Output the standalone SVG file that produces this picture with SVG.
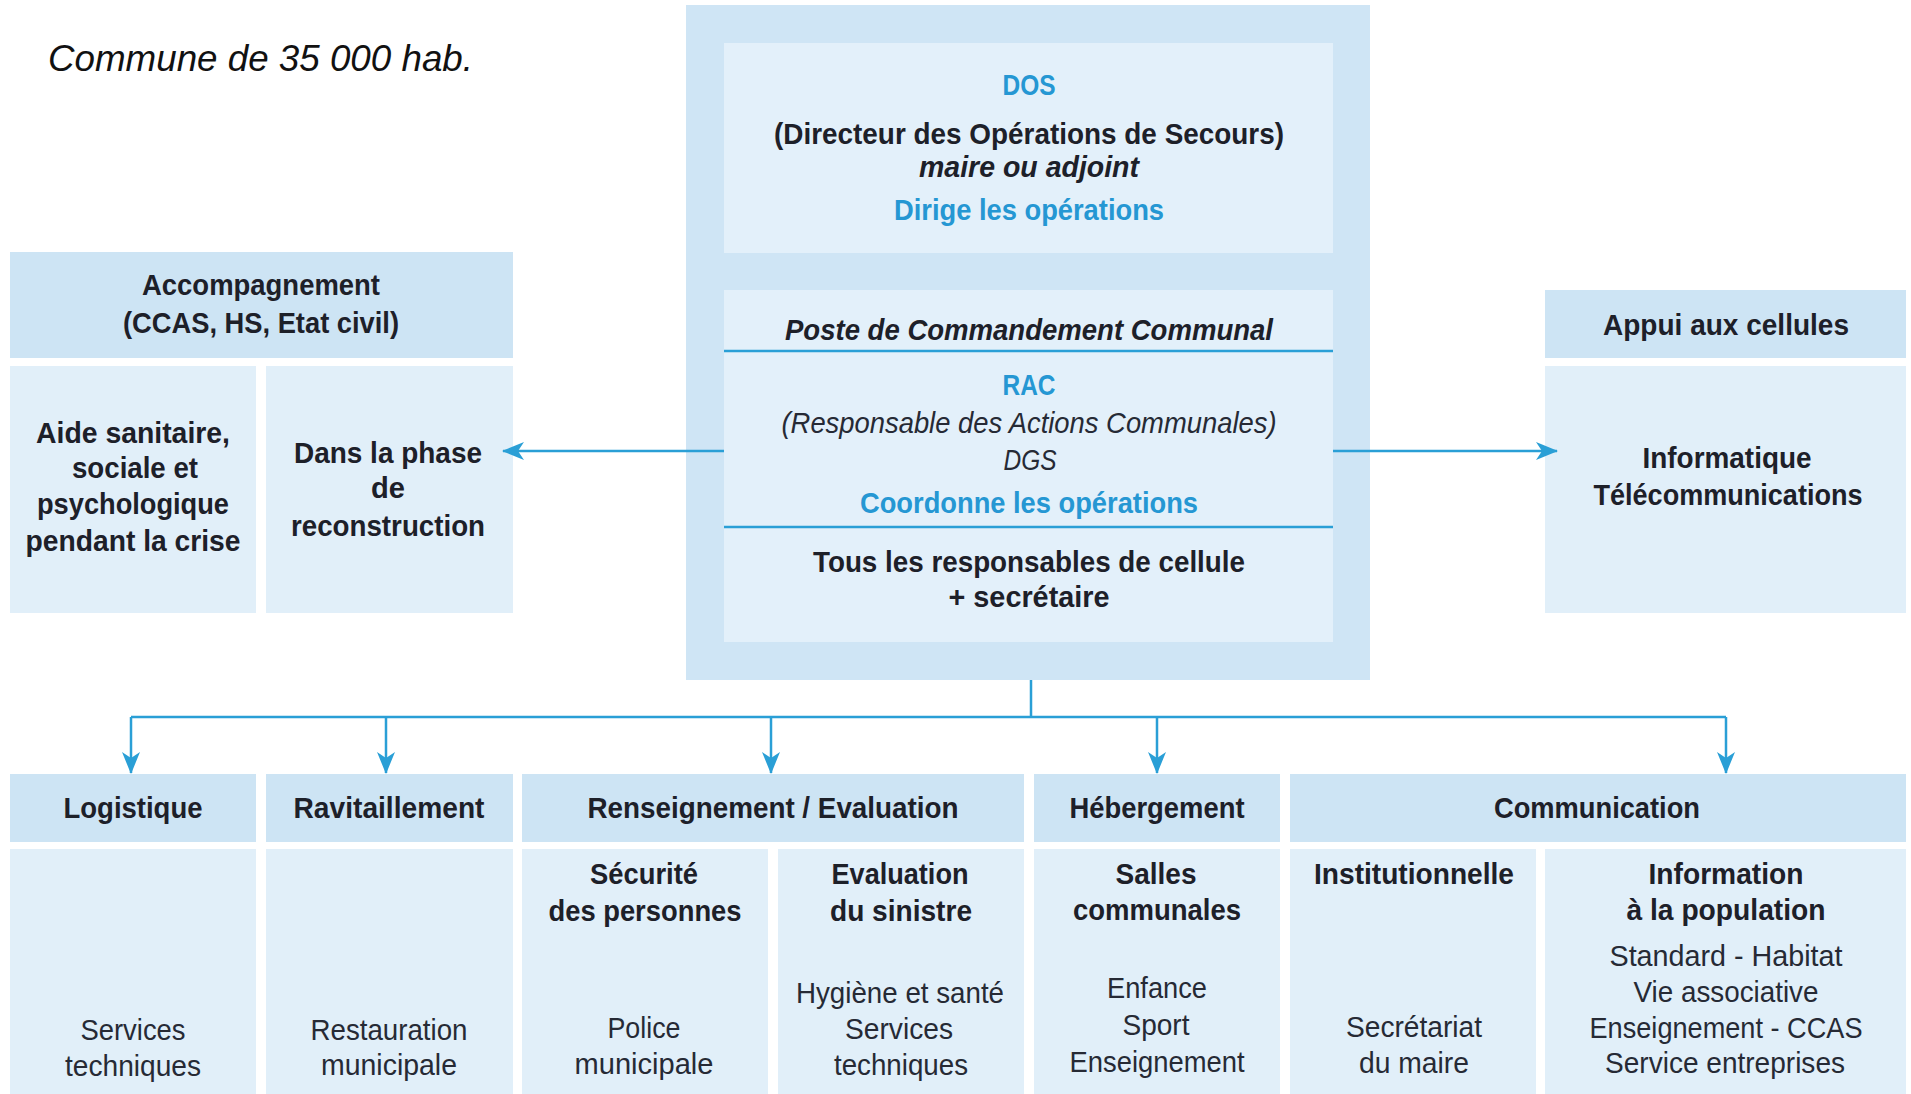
<svg xmlns="http://www.w3.org/2000/svg" width="1911" height="1094" viewBox="0 0 1911 1094">
<style>
.hd{fill:#cde4f4}
.cl{fill:#e1eff9}
.ob{fill:#cfe5f5}
.ib{fill:#e3f0fa}
text{font-family:"Liberation Sans Narrow","Liberation Sans",Arial,sans-serif;font-size:30px;font-weight:700;fill:#1d2029;text-anchor:middle}
.r{font-weight:400;fill:#262a35}
.i{font-style:italic}
.bl{fill:#2597d3}
.sep{stroke:#2a9fd6;stroke-width:2.5}
.cn{fill:none;stroke:#2a9fd6;stroke-width:2.5}
.title{font-family:"Liberation Sans",Arial,sans-serif;font-weight:400;font-style:italic;font-size:37px;fill:#111;text-anchor:start}
</style>
<defs>
<marker id="ah" markerUnits="userSpaceOnUse" markerWidth="24" markerHeight="20" refX="21" refY="9" orient="auto">
<path d="M0,0 L22,9 L0,18 L6,9 Z" fill="#2a9fd6"/>
</marker>
</defs>
<rect width="1911" height="1094" fill="#fff"/>
<text class="title" x="48" y="71" textLength="425" lengthAdjust="spacingAndGlyphs">Commune de 35 000 hab.</text>

<g id="center">
<rect class="ob" x="686" y="5" width="684" height="675"/>
<g id="dos">
<rect class="ib" x="724" y="43" width="609" height="210"/>
<text class="bl" x="1029" y="95" textLength="53" lengthAdjust="spacingAndGlyphs">DOS</text>
<text x="1029" y="144" textLength="510" lengthAdjust="spacingAndGlyphs">(Directeur des Opérations de Secours)</text>
<text class="i" x="1029" y="177" textLength="220" lengthAdjust="spacingAndGlyphs">maire ou adjoint</text>
<text class="bl" x="1029" y="220" textLength="270" lengthAdjust="spacingAndGlyphs">Dirige les opérations</text>
</g>
<g id="pcc">
<rect class="ib" x="724" y="290" width="609" height="352"/>
<line class="sep" x1="724" y1="351" x2="1333" y2="351"/>
<line class="sep" x1="724" y1="527" x2="1333" y2="527"/>
<text class="i" x="1029" y="340" textLength="488" lengthAdjust="spacingAndGlyphs">Poste de Commandement Communal</text>
<text class="bl" x="1029" y="395" textLength="53" lengthAdjust="spacingAndGlyphs">RAC</text>
<text class="r i" x="1029" y="433" textLength="495" lengthAdjust="spacingAndGlyphs">(Responsable des Actions Communales)</text>
<text class="r i" x="1030" y="470" textLength="53" lengthAdjust="spacingAndGlyphs">DGS</text>
<text class="bl" x="1029" y="513" textLength="338" lengthAdjust="spacingAndGlyphs">Coordonne les opérations</text>
<text x="1029" y="572" textLength="432" lengthAdjust="spacingAndGlyphs">Tous les responsables de cellule</text>
<text x="1029" y="607" textLength="161" lengthAdjust="spacingAndGlyphs">+ secrétaire</text>
</g>
</g>

<g id="accompagnement">
<rect class="hd" x="10" y="252" width="503" height="106"/>
<text x="261" y="295" textLength="238" lengthAdjust="spacingAndGlyphs">Accompagnement</text>
<text x="261" y="333" textLength="276" lengthAdjust="spacingAndGlyphs">(CCAS, HS, Etat civil)</text>
<rect class="cl" x="10" y="366" width="246" height="247"/>
<text x="133" y="443" textLength="194" lengthAdjust="spacingAndGlyphs">Aide sanitaire,</text>
<text x="135" y="478" textLength="126" lengthAdjust="spacingAndGlyphs">sociale et</text>
<text x="133" y="514" textLength="192" lengthAdjust="spacingAndGlyphs">psychologique</text>
<text x="133" y="551" textLength="215" lengthAdjust="spacingAndGlyphs">pendant la crise</text>
<rect class="cl" x="266" y="366" width="247" height="247"/>
<text x="388" y="463" textLength="188" lengthAdjust="spacingAndGlyphs">Dans la phase</text>
<text x="388" y="498" textLength="34" lengthAdjust="spacingAndGlyphs">de</text>
<text x="388" y="536" textLength="194" lengthAdjust="spacingAndGlyphs">reconstruction</text>
</g>

<g id="appui">
<rect class="hd" x="1545" y="290" width="361" height="68"/>
<text x="1726" y="335" textLength="246" lengthAdjust="spacingAndGlyphs">Appui aux cellules</text>
<rect class="cl" x="1545" y="366" width="361" height="247"/>
<text x="1727" y="468" textLength="169" lengthAdjust="spacingAndGlyphs">Informatique</text>
<text x="1728" y="505" textLength="269" lengthAdjust="spacingAndGlyphs">Télécommunications</text>
</g>

<g id="logistique">
<rect class="hd" x="10" y="774" width="246" height="68"/>
<text x="133" y="818" textLength="139" lengthAdjust="spacingAndGlyphs">Logistique</text>
<rect class="cl" x="10" y="849" width="246" height="250"/>
<text class="r" x="133" y="1040" textLength="105" lengthAdjust="spacingAndGlyphs">Services</text>
<text class="r" x="133" y="1076" textLength="136" lengthAdjust="spacingAndGlyphs">techniques</text>
</g>

<g id="ravitaillement">
<rect class="hd" x="266" y="774" width="247" height="68"/>
<text x="389" y="818" textLength="191" lengthAdjust="spacingAndGlyphs">Ravitaillement</text>
<rect class="cl" x="266" y="849" width="247" height="250"/>
<text class="r" x="389" y="1040" textLength="157" lengthAdjust="spacingAndGlyphs">Restauration</text>
<text class="r" x="389" y="1075" textLength="136" lengthAdjust="spacingAndGlyphs">municipale</text>
</g>

<g id="renseignement">
<rect class="hd" x="522" y="774" width="502" height="68"/>
<text x="773" y="818" textLength="371" lengthAdjust="spacingAndGlyphs">Renseignement / Evaluation</text>
<rect class="cl" x="522" y="849" width="246" height="250"/>
<text x="644" y="884" textLength="108" lengthAdjust="spacingAndGlyphs">Sécurité</text>
<text x="645" y="921" textLength="193" lengthAdjust="spacingAndGlyphs">des personnes</text>
<text class="r" x="644" y="1038" textLength="73" lengthAdjust="spacingAndGlyphs">Police</text>
<text class="r" x="644" y="1074" textLength="139" lengthAdjust="spacingAndGlyphs">municipale</text>
<rect class="cl" x="778" y="849" width="246" height="250"/>
<text x="900" y="884" textLength="137" lengthAdjust="spacingAndGlyphs">Evaluation</text>
<text x="901" y="921" textLength="142" lengthAdjust="spacingAndGlyphs">du sinistre</text>
<text class="r" x="900" y="1003" textLength="208" lengthAdjust="spacingAndGlyphs">Hygiène et santé</text>
<text class="r" x="899" y="1039" textLength="108" lengthAdjust="spacingAndGlyphs">Services</text>
<text class="r" x="901" y="1075" textLength="134" lengthAdjust="spacingAndGlyphs">techniques</text>
</g>

<g id="hebergement">
<rect class="hd" x="1034" y="774" width="246" height="68"/>
<text x="1157" y="818" textLength="175" lengthAdjust="spacingAndGlyphs">Hébergement</text>
<rect class="cl" x="1034" y="849" width="246" height="250"/>
<text x="1156" y="884" textLength="81" lengthAdjust="spacingAndGlyphs">Salles</text>
<text x="1157" y="920" textLength="168" lengthAdjust="spacingAndGlyphs">communales</text>
<text class="r" x="1157" y="998" textLength="100" lengthAdjust="spacingAndGlyphs">Enfance</text>
<text class="r" x="1156" y="1035" textLength="67" lengthAdjust="spacingAndGlyphs">Sport</text>
<text class="r" x="1157" y="1072" textLength="175" lengthAdjust="spacingAndGlyphs">Enseignement</text>
</g>

<g id="communication">
<rect class="hd" x="1290" y="774" width="616" height="68"/>
<text x="1597" y="818" textLength="206" lengthAdjust="spacingAndGlyphs">Communication</text>
<rect class="cl" x="1290" y="849" width="246" height="250"/>
<text x="1414" y="884" textLength="200" lengthAdjust="spacingAndGlyphs">Institutionnelle</text>
<text class="r" x="1414" y="1037" textLength="136" lengthAdjust="spacingAndGlyphs">Secrétariat</text>
<text class="r" x="1414" y="1073" textLength="110" lengthAdjust="spacingAndGlyphs">du maire</text>
<rect class="cl" x="1545" y="849" width="361" height="250"/>
<text x="1726" y="884" textLength="155" lengthAdjust="spacingAndGlyphs">Information</text>
<text x="1726" y="920" textLength="199" lengthAdjust="spacingAndGlyphs">à la population</text>
<text class="r" x="1726" y="966" textLength="233" lengthAdjust="spacingAndGlyphs">Standard - Habitat</text>
<text class="r" x="1726" y="1002" textLength="185" lengthAdjust="spacingAndGlyphs">Vie associative</text>
<text class="r" x="1726" y="1038" textLength="273" lengthAdjust="spacingAndGlyphs">Enseignement - CCAS</text>
<text class="r" x="1725" y="1073" textLength="240" lengthAdjust="spacingAndGlyphs">Service entreprises</text>
</g>

<g id="connectors">
<line class="cn" x1="724" y1="451" x2="503" y2="451" marker-end="url(#ah)"/>
<line class="cn" x1="1333" y1="451" x2="1557" y2="451" marker-end="url(#ah)"/>
<path class="cn" d="M1031,680 V717 M131,717 H1726"/>
<line class="cn" x1="131" y1="717" x2="131" y2="773" marker-end="url(#ah)"/>
<line class="cn" x1="386" y1="717" x2="386" y2="773" marker-end="url(#ah)"/>
<line class="cn" x1="771" y1="717" x2="771" y2="773" marker-end="url(#ah)"/>
<line class="cn" x1="1157" y1="717" x2="1157" y2="773" marker-end="url(#ah)"/>
<line class="cn" x1="1726" y1="717" x2="1726" y2="773" marker-end="url(#ah)"/>
</g>
</svg>
